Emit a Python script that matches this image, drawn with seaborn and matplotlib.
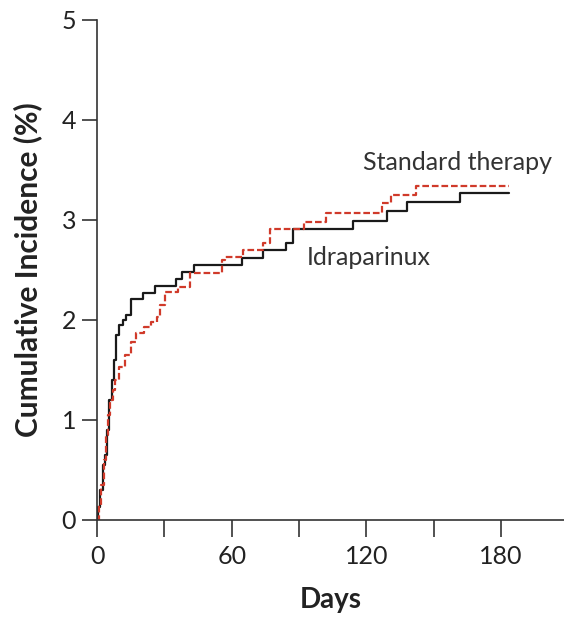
import pandas as pd
import matplotlib.pyplot as plt
import seaborn as sns

# step points (day, cumulative incidence %)
idra_days = [0, 0.6, 1.5, 2.5, 3.5, 4.5, 5.5, 6.5, 7.5, 8.5,
             10, 11.5, 13, 15, 20.6, 26, 35, 38, 43,
             64.4, 74, 84.4, 87.4, 114, 129, 138, 161.7, 183.5]
idra_vals = [0, 0.13, 0.3, 0.55, 0.65, 0.9, 1.2, 1.4, 1.6, 1.85,
             1.95, 2.0, 2.05, 2.21, 2.27, 2.34, 2.41, 2.48, 2.55,
             2.62, 2.70, 2.77, 2.91, 2.99, 3.09, 3.18, 3.27, 3.27]

std_days = [0, 1, 2, 3, 4, 5, 6, 7, 8,
            10, 12.5, 15, 17.5, 21, 24, 26.5, 28, 30.5,
            36, 41.5, 55.5, 57, 65, 74, 77,
            92, 102, 127, 131, 142, 183.5]
std_vals = [0, 0.15, 0.35, 0.6, 0.85, 1.05, 1.2, 1.3, 1.4,
            1.53, 1.65, 1.78, 1.87, 1.93, 1.98, 2.03, 2.15, 2.28,
            2.33, 2.47, 2.60, 2.63, 2.70, 2.77, 2.91,
            2.98, 3.07, 3.17, 3.25, 3.34, 3.34]

groups = ['Idraparinux', 'Standard therapy']

df = pd.concat([
    pd.DataFrame({'day': idra_days, 'pct': idra_vals, 'group': groups[0]}),
    pd.DataFrame({'day': std_days, 'pct': std_vals, 'group': groups[1]}),
])

sns.set_style('ticks')
plt.rcParams['font.family'] = ['Lato', 'DejaVu Sans']

fig = plt.figure(figsize=(5.64, 6.22), dpi=100)
ax = fig.add_axes([0.172, 0.164, 0.828, 0.804])

sns.lineplot(data=df, x='day', y='pct', hue='group', style='group',
             palette={groups[0]: '#1a1a1a', groups[1]: '#d03a2a'},
             dashes={groups[0]: '', groups[1]: (3, 1.3)},
             drawstyle='steps-post', linewidth=1.6, legend=False,
             estimator=None, sort=False, ax=ax)

ax.set_xlim(0, 208)
ax.set_ylim(0, 5)
ax.set_xticks([0, 60, 120, 180])
ax.set_xticks([30, 90, 150], minor=True)
ax.set_yticks([0, 1, 2, 3, 4, 5])
ax.tick_params(axis='both', which='both', direction='out', width=1.2,
               color='#333333', labelsize=18, labelcolor='#222222')
ax.tick_params(axis='y', length=11, pad=4)
ax.tick_params(axis='x', which='both', length=12, pad=6)
sns.despine(ax=ax)
for s in ['left', 'bottom']:
    ax.spines[s].set_linewidth(1.2)
    ax.spines[s].set_color('#333333')

ax.set_xlabel('Days', fontsize=20, fontweight='bold', labelpad=14, color='#222222')
ax.set_ylabel('Cumulative Incidence (%)', fontsize=21.5, fontweight='bold',
              labelpad=14, color='#222222')

ax.text(118.5, 3.57, 'Standard therapy', fontsize=18, color='#333333', va='center')
ax.text(93.5, 2.62, 'Idraparinux', fontsize=18, color='#333333', va='center')

plt.savefig('out.png', dpi=100)
